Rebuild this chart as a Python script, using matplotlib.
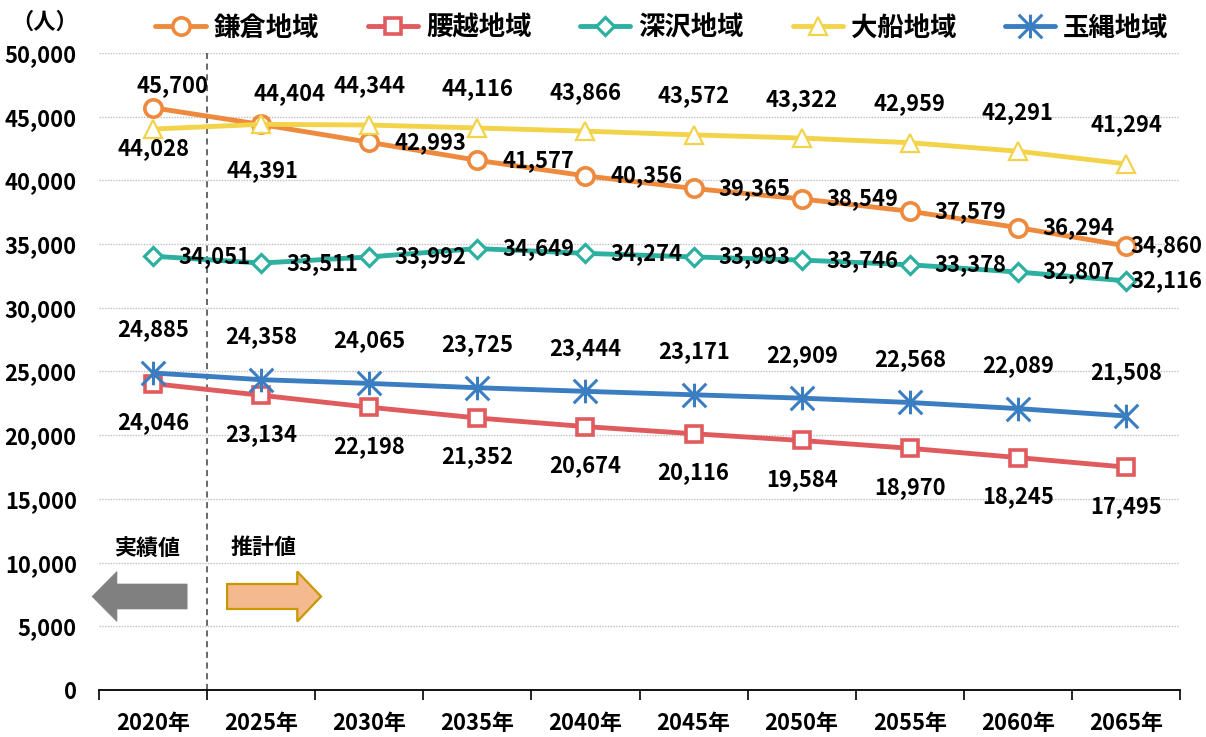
import numpy as np
import matplotlib
matplotlib.use('Agg')
import matplotlib.pyplot as plt
from matplotlib.path import Path
from matplotlib.patches import FancyArrow

plt.rcParams['font.family'] = ['Noto Sans CJK JP', 'DejaVu Sans']
plt.rcParams['font.weight'] = 'bold'

years = ['2020年', '2025年', '2030年', '2035年', '2040年',
         '2045年', '2050年', '2055年', '2060年', '2065年']
kamakura = [45700, 44391, 42993, 41577, 40356, 39365, 38549, 37579, 36294, 34860]
koshigoe = [24046, 23134, 22198, 21352, 20674, 20116, 19584, 18970, 18245, 17495]
fukasawa = [34051, 33511, 33992, 34649, 34274, 33993, 33746, 33378, 32807, 32116]
ofuna = [44028, 44404, 44344, 44116, 43866, 43572, 43322, 42959, 42291, 41294]
tamanawa = [24885, 24358, 24065, 23725, 23444, 23171, 22909, 22568, 22089, 21508]
names = ['鎌倉地域', '腰越地域', '深沢地域', '大船地域', '玉縄地域']

# asterisk marker (vertical bar + X)
star = Path([(0, -1), (0, 1), (-1, -1), (1, 1), (-1, 1), (1, -1)],
            [Path.MOVETO, Path.LINETO, Path.MOVETO, Path.LINETO, Path.MOVETO, Path.LINETO])

styles = [
    dict(color='#ED8A3D', marker='o', ms=12.5, mew=2.6, mfc='white'),
    dict(color='#E05B5E', marker='s', ms=12, mew=2.6, mfc='white'),
    dict(color='#2DB09F', marker='D', ms=9, mew=2.3, mfc='white'),
    dict(color='#F2D34A', marker='^', ms=13, mew=1.6, mfc='white'),
    dict(color='#3A7EC1', marker=star, ms=17, mew=2.2, mfc='none'),
]

# label offsets in pixels (dx, dy, ha)
R = (25, 0, 'left')
R_end = (4, 0, 'left')
offsets = [
    [(19, 22, 'center'), (1, -46, 'center')] + [R] * 7 + [R_end],
    [(0, -39, 'center')] * 10,
    [R] * 9 + [R_end],
    [(0, -19, 'center'), (28, 31, 'center')] + [(0, 39, 'center')] * 8,
    [(0, 43, 'center')] * 10,
]

fig = plt.figure(figsize=(12.06, 7.37), dpi=100)
ax = fig.add_axes([99 / 1206, 1 - 690 / 737, 1081 / 1206, 637 / 737])

x = np.arange(len(years))
series = [kamakura, koshigoe, fukasawa, ofuna, tamanawa]
for vals, name, st in zip(series, names, styles):
    ax.plot(x, vals, lw=3.5, label=name, color=st['color'], marker=st['marker'],
            markersize=st['ms'], markeredgewidth=st['mew'],
            markerfacecolor=st['mfc'], markeredgecolor=st['color'], solid_capstyle='round')

for vals, offs in zip(series, offsets):
    for xi, v, (dx, dy, ha) in zip(x, vals, offs):
        ax.annotate(f'{v:,}', (xi, v), xytext=(dx, dy), textcoords='offset pixels',
                    ha=ha, va='center', fontsize=15.8, fontweight='bold', zorder=10)

ax.set_xlim(-0.5, len(years) - 0.5)
ax.set_ylim(0, 50000)
ax.set_yticks(np.arange(0, 50001, 5000))
ax.set_yticklabels([f'{t:,}' for t in range(0, 50001, 5000)], fontsize=15.8, fontweight='bold')
ax.set_xticks(x)
ax.set_xticklabels(years, fontsize=15.8, fontweight='bold')
ax.set_xticks(np.arange(-0.5, len(years), 1), minor=True)
ax.tick_params(axis='x', which='major', length=0, pad=16)
ax.tick_params(axis='x', which='minor', length=7, width=1.2, direction='out', color='black')
ax.tick_params(axis='y', length=0, pad=16)
ax.grid(axis='y', color='#BFBFBF', linestyle=(0, (1, 1)), linewidth=1)
ax.set_axisbelow(True)
for s in ['left', 'right', 'top']:
    ax.spines[s].set_visible(False)
ax.spines['bottom'].set_linewidth(1.3)
ax.spines['bottom'].set_zorder(5)

ax.axvline(0.5, color='#404040', linestyle=(0, (4, 3)), linewidth=1.1, zorder=1)

# arrows
ax.add_patch(FancyArrow(0.315, 7340, -0.879, 0, width=1960, head_width=3920,
                        head_length=0.23, length_includes_head=True,
                        facecolor='#808080', edgecolor='#808080', lw=0.5, clip_on=False, zorder=3))
ax.add_patch(FancyArrow(0.685, 7340, 0.869, 0, width=1960, head_width=3920,
                        head_length=0.22, length_includes_head=True,
                        facecolor='#F4B98E', edgecolor='#C99700', lw=1.6, clip_on=False, zorder=3))
ax.text(-0.055, 11150, '実績値', ha='center', va='center', fontsize=15.8, fontweight='bold')
ax.text(1.018, 11150, '推計値', ha='center', va='center', fontsize=15.8, fontweight='bold')

fig.text(45 / 1206, 1 - 22 / 737, '（人）', ha='center', va='center', fontsize=16, fontweight='bold')

fig.legend(loc='center', bbox_to_anchor=(662 / 1206, 1 - 28 / 737), ncol=5, frameon=False,
           handlelength=1.9, handletextpad=0.3, columnspacing=1.85,
           prop={'size': 19, 'weight': 'bold'})

fig.savefig('out.png', dpi=100)
